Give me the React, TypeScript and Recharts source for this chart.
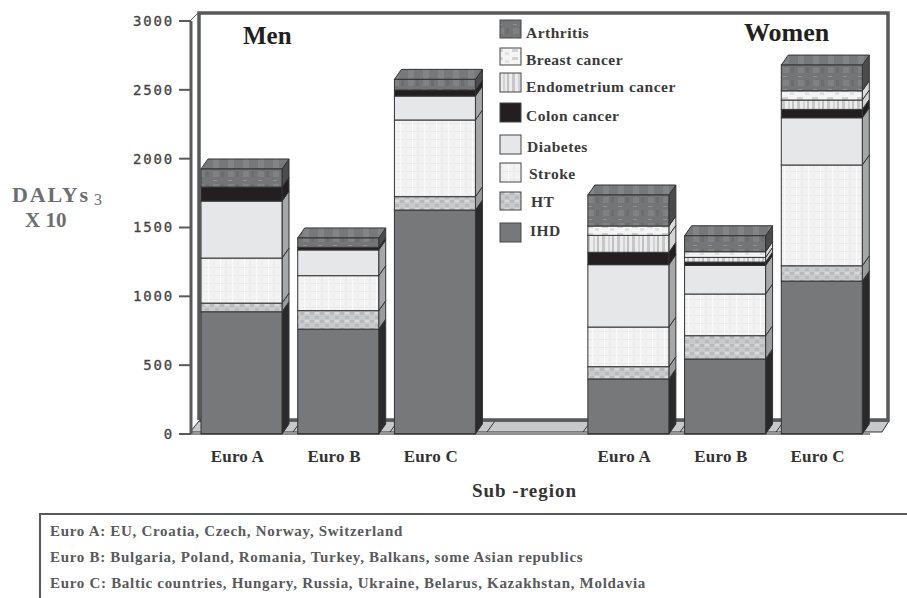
import { BarChart, Bar, XAxis, YAxis } from 'recharts';

const categories = ['Euro A', 'Euro B', 'Euro C', ' ', 'Euro A ', 'Euro B ', 'Euro C '];
const yTicks = [0, 500, 1000, 1500, 2000, 2500, 3000];

const ihd = [888, 762, 1627, 0, 400, 545, 1111];
const ht = [63, 134, 97, 0, 89, 169, 111];
const stroke = [327, 254, 557, 0, 288, 303, 732];
const diabetes = [414, 187, 174, 0, 453, 208, 343];
const colon = [102, 19, 44, 0, 90, 24, 61];
const endometrium = [0, 0, 0, 0, 123, 34, 68];
const breast = [0, 0, 0, 0, 68, 41, 67];
const arthritis = [131, 68, 77, 0, 225, 116, 187];

const data = categories.map((name, i) => ({
  name,
  ihd: ihd[i],
  ht: ht[i],
  stroke: stroke[i],
  diabetes: diabetes[i],
  colon: colon[i],
  endometrium: endometrium[i],
  breast: breast[i],
  arthritis: arthritis[i],
}));

const SERIES = [
  { key: 'ihd', fill: '#77787a', side: '#2b2a2b' },
  { key: 'ht', fill: 'url(#pHt)', side: '#9a9b9d' },
  { key: 'stroke', fill: 'url(#pStroke)', side: '#a5a7a9' },
  { key: 'diabetes', fill: '#e6e7e8', side: '#a5a7a9' },
  { key: 'colon', fill: '#231f20', side: '#231f20' },
  { key: 'endometrium', fill: 'url(#pEndo)', side: '#d4d5d6' },
  { key: 'breast', fill: 'url(#pBreast)', side: '#dcdcdc' },
  { key: 'arthritis', fill: 'url(#pArthritis)', side: '#4b4b4d' },
];

const LEGEND = [
  { label: 'Arthritis', fill: 'url(#pArthritis)', y: 20, h: 18, tx: 526, ty: 38 },
  { label: 'Breast cancer', fill: 'url(#pBreast)', y: 48, h: 17, tx: 526, ty: 65 },
  { label: 'Endometrium cancer', fill: 'url(#pEndo)', y: 73, h: 19, tx: 526, ty: 92 },
  { label: 'Colon cancer', fill: '#231f20', y: 103, h: 19, tx: 526, ty: 121 },
  { label: 'Diabetes', fill: '#e6e7e8', y: 135, h: 19, tx: 527, ty: 152 },
  { label: 'Stroke', fill: 'url(#pStroke)', y: 163, h: 19, tx: 529, ty: 179 },
  { label: 'HT', fill: 'url(#pHt)', y: 192, h: 18, tx: 531, ty: 207 },
  { label: 'IHD', fill: '#77787a', y: 223, h: 19, tx: 530, ty: 236 },
];

const NOTES = [
  'Euro A: EU, Croatia, Czech, Norway, Switzerland',
  'Euro B: Bulgaria, Poland, Romania, Turkey, Balkans, some Asian republics',
  'Euro C: Baltic countries, Hungary, Russia, Ukraine, Belarus, Kazakhstan, Moldavia',
];

const SERIF = '"Liberation Serif", serif';
const DEPTH_X = 7;
const DEPTH_Y = 10;

function Bar3D(props: any) {
  const { x, y, width, height, fill, side, isTop } = props;
  if (!height || height <= 0) return null;
  const r = x + width;
  const b = y + height;
  return (
    <g stroke="#333" strokeWidth={1}>
      <polygon
        points={`${r},${y} ${r + DEPTH_X},${y - DEPTH_Y} ${r + DEPTH_X},${b - DEPTH_Y} ${r},${b}`}
        fill={side}
      />
      {isTop && (
        <polygon
          points={`${x},${y} ${x + DEPTH_X},${y - DEPTH_Y} ${r + DEPTH_X},${y - DEPTH_Y} ${r},${y}`}
          fill="url(#pArthritisTop)"
        />
      )}
      <rect x={x} y={y} width={width} height={height} fill={fill} />
    </g>
  );
}

function Patterns() {
  return (
    <defs>
      <pattern id="pArthritis" width="15" height="13" patternUnits="userSpaceOnUse">
        <rect width="15" height="13" fill="#747577" />
        <rect x="3" y="2" width="6" height="6" fill="#808183" />
        <rect x="11" y="2" width="3" height="6" fill="#6c6d6f" />
        <rect x="3" y="11" width="4" height="1" fill="#919294" />
      </pattern>
      <pattern id="pArthritisTop" width="15" height="10" patternUnits="userSpaceOnUse">
        <rect width="15" height="10" fill="#77787a" />
        <rect x="3" width="6" height="10" fill="#838486" />
      </pattern>
      <pattern id="pBreast" width="15" height="8" patternUnits="userSpaceOnUse">
        <rect width="15" height="8" fill="#f4f4f4" />
        <rect x="2" y="1" width="6" height="3" fill="#d2d3d4" />
        <rect x="10" y="4" width="4" height="3" fill="#e0e1e2" />
      </pattern>
      <pattern id="pEndo" width="15" height="20" patternUnits="userSpaceOnUse">
        <rect width="15" height="20" fill="#ececec" />
        <rect x="2" width="3" height="20" fill="#c6c7c9" />
        <rect x="8" width="2" height="20" fill="#d2d3d4" />
        <rect x="12" width="2" height="20" fill="#bfc0c2" />
      </pattern>
      <pattern id="pStroke" width="12" height="8" patternUnits="userSpaceOnUse">
        <rect width="12" height="8" fill="#f3f3f3" />
        <rect y="3" width="12" height="1" fill="#e9e9ea" />
        <rect x="4" width="1" height="8" fill="#fbfbfb" />
        <rect x="9" width="2" height="8" fill="#eeeeef" />
      </pattern>
      <pattern id="pHt" width="10" height="8" patternUnits="userSpaceOnUse">
        <rect width="10" height="8" fill="#c9cacc" />
        <rect x="0" y="0" width="4" height="3" fill="#b9babc" />
        <rect x="5" y="4" width="4" height="3" fill="#b9babc" />
        <rect x="5" y="0" width="4" height="2" fill="#d9d9da" />
      </pattern>
    </defs>
  );
}

// back wall and floor of the fake 3D box
function Frame() {
  const floorTicks = [293, 390, 487, 583, 680, 776];
  return (
    <g>
      <polygon points="190,432 199,421 889,421 882,432" fill="#c7c8ca" stroke="#333" strokeWidth={1} />
      {floorTicks.map((fx) => (
        <line key={fx} x1={fx} y1={432} x2={fx + 8} y2={421} stroke="#333" strokeWidth={1} />
      ))}
      <polyline points="199,420 199,13 888,13 888,420 199,420" fill="#fff" stroke="#58595b" strokeWidth={3.5} />
      <line x1={190} y1={21} x2={198} y2={13} stroke="#58595b" strokeWidth={1} />
    </g>
  );
}

function Labels() {
  return (
    <g fontFamily={SERIF} fontWeight="bold">
      <text x={243} y={44} fontSize={25} fill="#231f20">Men</text>
      <text x={744} y={41} fontSize={26} fill="#231f20">Women</text>
      <text x={12} y={202} fontSize={22} letterSpacing={1.8} fill="#6d6e70">DALYs<tspan dx={4} dy={3} fontSize={16} fontWeight="normal">3</tspan></text>
      <text x={25} y={227} fontSize={21} fill="#6d6e70">X 10</text>
      {LEGEND.map((item) => (
        <g key={item.label}>
          <rect x={500} y={item.y} width={21} height={item.h} fill={item.fill} stroke="#444" strokeWidth={1} />
          <text x={item.tx} y={item.ty} fontSize={15.5} letterSpacing={0.5} fill="#3a3a3c">{item.label}</text>
        </g>
      ))}
    </g>
  );
}

export default function App() {
  return (
    <div style={{ position: 'absolute', left: 0, top: 0, width: 907, height: 598, background: '#fff', overflow: 'hidden' }}>
      <BarChart
        width={907}
        height={598}
        data={data}
        margin={{ top: 21, right: 37, bottom: 94, left: 0 }}
      >
        <Patterns />
        <Frame />
        <XAxis
          dataKey="name"
          height={70}
          padding={{ left: 2, right: 0 }}
          axisLine={{ stroke: '#222', strokeWidth: 1 }}
          tickLine={false}
          tickMargin={10}
          interval={0}
          tick={{ fontFamily: SERIF, fontWeight: 'bold', fontSize: 17, letterSpacing: 0.2, fill: '#333', dx: -4 }}
          tickFormatter={(v: string) => v.trim()}
          label={{
            value: 'Sub -region',
            position: 'insideBottom',
            offset: 7,
            dx: -6,
            style: { fontFamily: SERIF, fontWeight: 'bold', fontSize: 19, fill: '#333', letterSpacing: 1 },
          }}
        />
        <YAxis
          width={191}
          domain={[0, 3000]}
          ticks={yTicks}
          interval={0}
          axisLine={{ stroke: '#58595b', strokeWidth: 3 }}
          tickLine={{ stroke: '#58595b', strokeWidth: 2 }}
          tickSize={12}
          tickMargin={5}
          tick={{ fontFamily: '"DejaVu Sans Mono", monospace', fontSize: 14, fill: '#444', stroke: '#444', strokeWidth: 0.3, letterSpacing: 1.8 }}
        />
        {SERIES.map((s, i) => (
          <Bar
            key={s.key}
            dataKey={s.key}
            stackId="a"
            barSize={81}
            fill={s.fill}
            isAnimationActive={false}
            shape={(p: any) => <Bar3D {...p} fill={s.fill} side={s.side} isTop={i === SERIES.length - 1} />}
          />
        ))}
        <Labels />
      </BarChart>
      <div
        style={{
          position: 'absolute',
          left: 39,
          top: 513,
          right: 0,
          height: 85,
          borderLeft: '2px solid #58595b',
          borderTop: '2px solid #58595b',
          boxSizing: 'border-box',
          paddingLeft: 9,
          paddingTop: 3,
          fontFamily: SERIF,
          fontWeight: 'bold',
          fontSize: 15,
          letterSpacing: 0.7,
          lineHeight: '26px',
          color: '#58595b',
        }}
      >
        {NOTES.map((n) => (
          <div key={n}>{n}</div>
        ))}
      </div>
    </div>
  );
}
